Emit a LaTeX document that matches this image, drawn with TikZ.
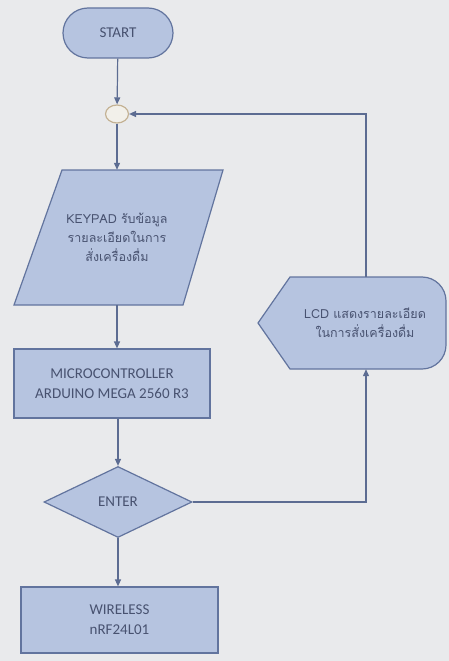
\documentclass[tikz,border=0pt]{standalone}
\usepackage{fontspec}
\setmainfont{Carlito}
\newfontfamily\thaifont[Script=Thai]{Loma}
\definecolor{PageGrey}{RGB}{233,234,236}
\definecolor{BoxFill}{RGB}{182,196,224}
\definecolor{BoxLine}{RGB}{98,116,158}
\definecolor{FlowLine}{RGB}{92,108,146}
\definecolor{BoxText}{RGB}{72,82,112}
\definecolor{JoinFill}{RGB}{242,240,234}
\definecolor{JoinLine}{RGB}{196,178,148}
\usetikzlibrary{shapes.geometric, arrows.meta}

\begin{document}
\begin{tikzpicture}[x = 1pt, y = -1pt,
    box/.style = {draw = BoxLine, fill = BoxFill, line width = 1.2pt, text = BoxText,
        font = \fontsize{15}{20}\selectfont, align = center, inner sep = 0pt},
    outline/.style = {draw = BoxLine, fill = BoxFill, line width = 1.2pt},
    thaibox/.style = {text = BoxText, align = center, inner sep = 0pt,
        font = \thaifont\fontsize{12.5}{19}\selectfont},
    flow/.style = {draw = FlowLine, line width = 1.2pt, -{Triangle[length = 7pt, width = 6pt]}}]

\useasboundingbox[fill = PageGrey] (0, 0) rectangle (449, 661);

\node[box, rounded corners = 25pt, minimum width = 110pt, minimum height = 50pt] (start) at (118, 33) {START};
\node[ellipse, draw = JoinLine, fill = JoinFill, line width = 1.2pt, minimum width = 23pt,
    minimum height = 18pt, inner sep = 0pt] (join) at (117, 114) {};

\draw[outline] (62, 170) -- (223, 170) -- (183, 305) -- (14, 305) -- cycle;
\node[thaibox, minimum height = 135pt] (keypad) at (117, 237.5)
    {KEYPAD รับข้อมูล\\รายละเอียดในการ\\สั่งเครื่องดื่ม};

\node[box, minimum width = 196pt, minimum height = 69pt] (mcu) at (112, 383.5) {MICROCONTROLLER\\ARDUINO MEGA 2560 R3};
\node[box, diamond, minimum width = 148pt, minimum height = 71pt] (enter) at (118, 502) {ENTER};
\node[box, minimum width = 197pt, minimum height = 66pt] (wireless) at (119.5, 620) {WIRELESS\\nRF24L01};

\draw[outline]
    (258, 323) -- (290, 277) -- (422, 277) arc[start angle = -90, end angle = 0, radius = 24]
    -- (446, 345) arc[start angle = 0, end angle = 90, radius = 24] -- (290, 369) -- cycle;
\node[thaibox, minimum height = 92pt] (lcd) at (365, 323)
    {LCD แสดงรายละเอียด\\ในการสั่งเครื่องดื่ม};

\coordinate (loop) at (366, 114);

\draw[flow] (start) -- (join);
\draw[flow] (join) -- (join |- keypad.north);
\draw[flow] (keypad.south -| join) -- (mcu.north -| join);
\draw[flow] (mcu.south -| enter) -- (enter);
\draw[flow] (enter) -- (wireless.north -| enter);
\draw[flow] (enter) -| (lcd.south -| loop);
\draw[flow] (lcd.north -| loop) -- (loop) -- (join);

\end{tikzpicture}
\end{document}
